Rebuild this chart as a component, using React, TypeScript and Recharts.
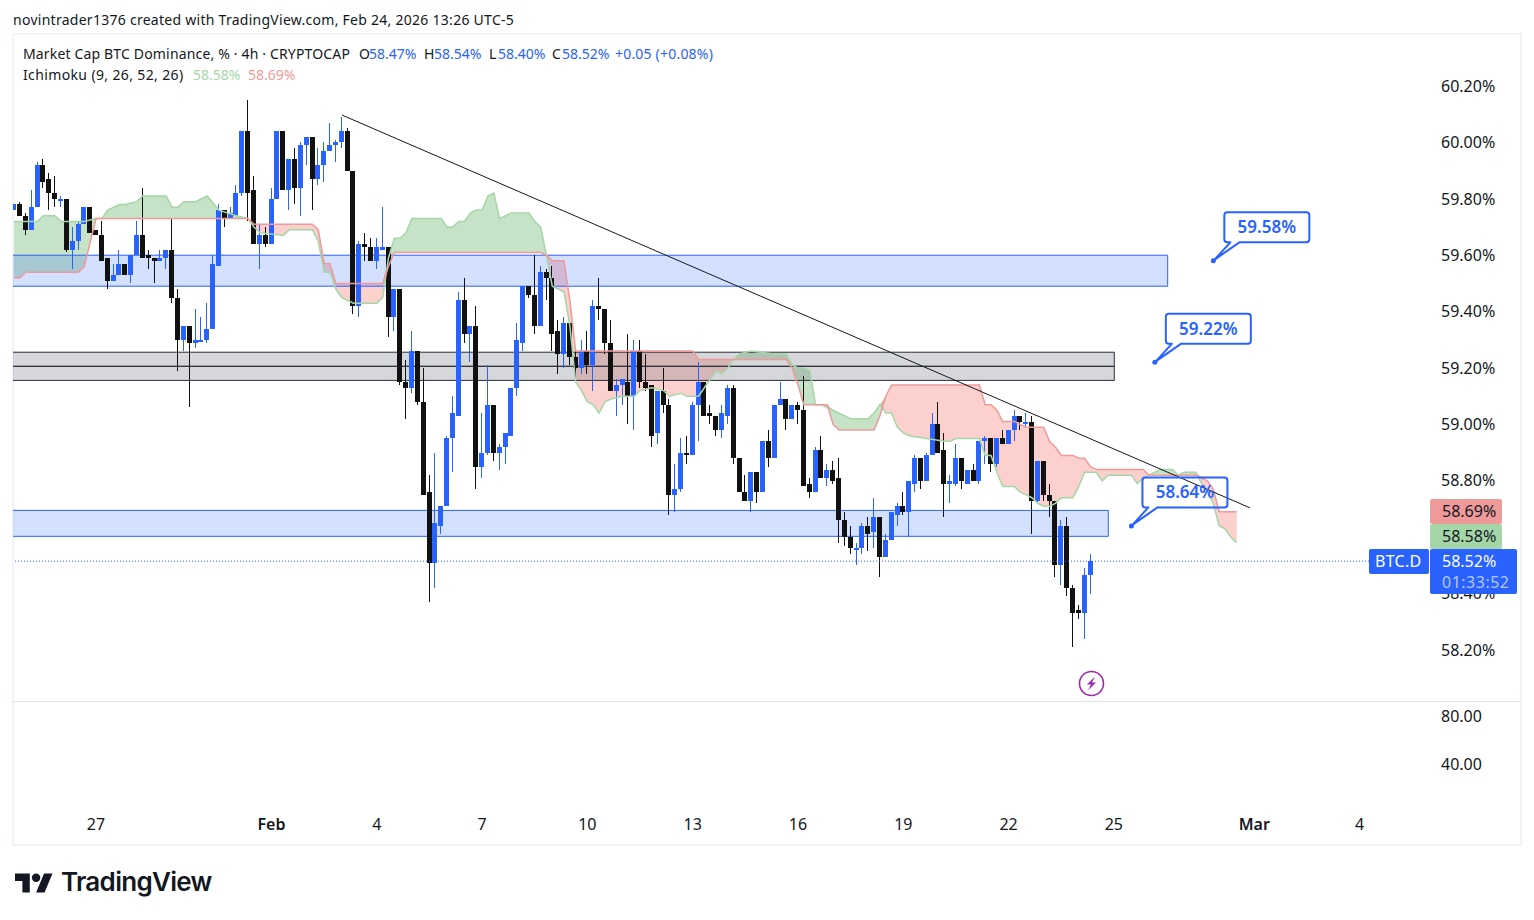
import React from 'react';
import {
  ComposedChart,
  Area,
  Bar,
  Line,
  XAxis,
  YAxis,
  ReferenceArea,
  ReferenceDot,
  ReferenceLine,
} from 'recharts';

// candles, 4h bars
const opens = [
  59.76,59.78,59.74,59.69,59.77,59.92,59.87,59.82,59.80,59.80,
  59.62,59.65,59.71,59.77,59.69,59.67,59.59,59.51,59.53,59.57,
  59.53,59.60,59.67,59.60,59.59,59.58,59.59,59.62,59.45,59.30,
  59.35,59.29,59.30,59.30,59.34,59.56,59.76,59.73,59.74,59.82,
  60.04,59.83,59.64,59.67,59.64,59.80,60.04,59.83,59.94,59.84,
  59.99,60.02,59.87,59.92,59.97,59.99,60.00,60.04,59.90,59.42,
  59.64,59.63,59.58,59.62,59.63,59.38,59.48,59.15,59.13,59.26,
  59.08,58.76,58.51,58.64,58.71,58.95,59.03,59.44,59.32,59.35,
  58.85,58.90,59.07,58.90,58.92,58.96,59.13,59.29,59.49,59.46,
  59.35,59.54,59.52,59.33,59.25,59.36,59.24,59.20,59.26,59.21,
  59.42,59.41,59.29,59.12,59.14,59.15,59.10,59.26,59.15,59.14,
  58.97,59.12,59.07,58.75,58.77,58.90,58.89,59.07,59.15,59.04,
  59.03,58.98,59.03,59.13,58.88,58.76,58.73,58.83,58.76,58.94,
  58.88,59.07,59.09,59.02,59.07,59.05,58.79,58.76,58.91,58.81,
  58.84,58.81,58.66,58.60,58.56,58.56,58.64,58.62,58.67,58.53,
  58.59,58.68,58.71,58.69,58.79,58.88,58.80,58.89,59.00,58.91,
  58.79,58.79,58.88,58.79,58.84,58.80,58.94,58.95,58.86,58.95,
  58.93,58.98,59.03,59.01,59.01,58.73,58.87,58.75,58.73,58.50,
  58.64,58.42,58.34,58.33,58.465,
];
const highs = [
  59.78,59.79,59.75,59.83,59.93,59.94,59.89,59.88,59.81,59.80,
  59.70,59.72,59.77,59.77,59.69,59.72,59.59,59.57,59.62,59.57,
  59.60,59.72,59.84,59.62,59.59,59.62,59.62,59.73,59.48,59.35,
  59.35,59.41,59.38,59.43,59.60,59.78,59.76,59.77,59.85,60.04,
  60.15,59.88,59.71,59.70,59.84,60.04,60.04,59.94,59.98,60.00,
  60.02,60.02,59.98,60.00,60.07,60.01,60.09,60.05,59.90,59.65,
  59.68,59.66,59.66,59.77,59.63,59.48,59.48,59.23,59.33,59.26,
  59.20,58.82,58.90,58.71,58.96,59.10,59.47,59.52,59.35,59.42,
  59.04,59.21,59.07,58.93,58.97,59.13,59.36,59.49,59.49,59.60,
  59.56,59.55,59.56,59.37,59.38,59.36,59.26,59.30,59.33,59.44,
  59.52,59.41,59.37,59.16,59.16,59.32,59.30,59.30,59.25,59.14,
  59.12,59.20,59.09,58.86,58.95,58.96,59.08,59.22,59.15,59.07,
  59.03,59.07,59.14,59.14,58.88,58.82,58.83,58.83,58.94,58.98,
  59.07,59.15,59.09,59.07,59.08,59.17,58.81,58.92,58.96,58.86,
  58.87,58.88,58.69,58.64,58.58,58.65,58.67,58.74,58.67,58.61,
  58.69,58.72,58.76,58.80,58.89,58.88,58.90,59.04,59.08,58.97,
  58.82,58.93,58.88,58.84,58.86,58.94,58.96,58.95,58.95,58.98,
  58.98,59.05,59.03,59.04,59.03,58.87,58.87,58.79,58.73,58.66,
  58.67,58.43,58.36,58.49,58.54,
];
const lows = [
  59.76,59.74,59.67,59.69,59.77,59.84,59.76,59.77,59.77,59.61,
  59.55,59.62,59.71,59.68,59.67,59.58,59.48,59.51,59.53,59.53,
  59.50,59.60,59.59,59.55,59.50,59.58,59.55,59.43,59.19,59.26,
  59.06,59.27,59.30,59.29,59.34,59.56,59.70,59.73,59.74,59.81,
  59.72,59.64,59.55,59.63,59.64,59.80,59.83,59.76,59.78,59.74,
  59.92,59.76,59.85,59.86,59.97,59.93,59.98,59.90,59.39,59.38,
  59.58,59.58,59.55,59.62,59.31,59.33,59.14,59.02,59.11,59.07,
  58.75,58.37,58.42,58.61,58.71,58.83,59.03,59.29,59.22,58.77,
  58.81,58.89,58.87,58.84,58.86,58.96,59.10,59.26,59.45,59.32,
  59.35,59.44,59.26,59.18,59.20,59.21,59.16,59.18,59.18,59.12,
  59.37,59.25,59.12,59.03,59.07,59.00,58.98,59.13,59.12,58.92,
  58.93,59.04,58.68,58.69,58.76,58.86,58.89,58.94,59.03,59.00,
  58.96,58.95,59.00,58.86,58.76,58.73,58.69,58.72,58.76,58.85,
  58.88,59.07,58.98,59.02,59.00,58.78,58.74,58.76,58.81,58.78,
  58.79,58.58,58.57,58.54,58.50,58.54,58.55,58.56,58.46,58.53,
  58.59,58.64,58.68,58.60,58.76,58.77,58.80,58.89,58.90,58.67,
  58.72,58.78,58.77,58.79,58.80,58.79,58.86,58.83,58.85,58.93,
  58.93,58.94,58.98,58.99,58.61,58.72,58.73,58.67,58.46,58.43,
  58.39,58.21,58.31,58.24,58.40,
];
const closes = [
  59.78,59.74,59.69,59.77,59.92,59.86,59.82,59.80,59.80,59.62,
  59.65,59.71,59.77,59.68,59.67,59.58,59.51,59.53,59.57,59.53,
  59.60,59.67,59.59,59.59,59.58,59.59,59.62,59.45,59.30,59.35,
  59.29,59.30,59.30,59.34,59.57,59.76,59.73,59.75,59.82,60.04,
  59.82,59.64,59.67,59.64,59.80,60.04,59.83,59.94,59.84,59.99,
  60.02,59.87,59.92,59.97,59.99,60.00,60.04,59.90,59.42,59.64,
  59.63,59.58,59.63,59.63,59.38,59.48,59.15,59.13,59.26,59.08,
  58.75,58.51,58.65,58.71,58.95,59.04,59.44,59.32,59.35,58.85,
  58.90,59.07,58.90,58.92,58.97,59.13,59.30,59.49,59.46,59.35,
  59.54,59.52,59.32,59.25,59.36,59.24,59.20,59.26,59.21,59.42,
  59.41,59.29,59.12,59.14,59.16,59.10,59.26,59.15,59.13,58.96,
  59.12,59.07,58.75,58.77,58.90,58.89,59.07,59.15,59.03,59.03,
  58.98,59.04,59.13,58.88,58.76,58.73,58.83,58.76,58.94,58.88,
  59.07,59.09,59.02,59.07,59.05,58.78,58.76,58.91,58.81,58.84,
  58.80,58.66,58.60,58.56,58.56,58.64,58.61,58.67,58.53,58.59,
  58.69,58.71,58.69,58.80,58.88,58.80,58.89,59.00,58.90,58.79,
  58.80,58.88,58.80,58.84,58.80,58.94,58.95,58.86,58.95,58.93,
  58.98,59.03,59.01,59.01,58.73,58.87,58.75,58.73,58.50,58.64,
  58.42,58.33,58.33,58.465,58.515,
];

// ichimoku cloud, only the bars where a span changes direction
const cloudBars = [
  0,1,2,4,5,7,8,11,12,14,15,16,18,19,21,22,26,27,28,29,31,33,35,38,40,41,42,46,47,49,51,52,53,54,55,56,58,62,63,64,
  65,66,67,68,73,74,75,76,77,78,79,80,81,82,83,84,85,88,89,90,91,92,94,95,96,97,98,99,100,101,102,104,106,107,109,111,112,114,115,116,
  117,118,119,120,121,122,123,124,126,130,132,133,134,135,136,137,138,139,140,141,142,143,146,147,148,149,150,151,152,153,156,159,160,161,165,166,167,168,169,171,
  172,173,174,175,176,177,178,179,181,182,183,184,185,186,187,191,192,193,194,196,198,199,200,202,203,204,205,206,207,208,209,
];
const spanA = [
  59.72,59.72,59.72,59.72,59.74,59.74,59.72,59.72,59.72,59.73,59.73,59.76,59.78,59.78,59.79,59.81,59.81,59.77,59.77,59.79,59.79,59.81,59.76,59.74,59.73,59.70,59.68,59.67,59.69,59.69,59.69,59.65,59.54,59.54,59.48,59.45,59.43,59.43,59.45,59.59,
  59.66,59.66,59.68,59.73,59.73,59.70,59.70,59.72,59.72,59.75,59.76,59.76,59.81,59.82,59.73,59.74,59.75,59.75,59.72,59.70,59.60,59.49,59.47,59.35,59.15,59.12,59.08,59.07,59.04,59.08,59.09,59.10,59.10,59.12,59.13,59.12,59.10,59.11,59.10,59.10,
  59.10,59.13,59.16,59.19,59.18,59.20,59.23,59.25,59.26,59.25,59.25,59.21,59.20,59.20,59.19,59.07,59.07,59.06,59.05,59.04,59.03,59.02,59.02,59.04,59.07,59.04,59.04,58.99,58.97,58.96,58.95,58.94,58.94,58.95,58.95,58.89,58.89,58.83,58.78,58.78,
  58.76,58.75,58.74,58.72,58.71,58.71,58.72,58.74,58.74,58.78,58.83,58.83,58.83,58.80,58.82,58.82,58.79,58.81,58.82,58.84,58.84,58.82,58.83,58.83,58.79,58.76,58.72,58.64,58.63,58.60,58.58,
];
const spanB = [
  59.52,59.52,59.54,59.54,59.54,59.54,59.54,59.54,59.56,59.73,59.73,59.73,59.73,59.73,59.73,59.73,59.73,59.73,59.73,59.73,59.73,59.73,59.73,59.73,59.73,59.71,59.71,59.71,59.71,59.71,59.71,59.69,59.57,59.57,59.50,59.50,59.50,59.50,59.50,59.56,
  59.61,59.61,59.61,59.61,59.61,59.61,59.61,59.61,59.61,59.61,59.61,59.61,59.61,59.61,59.61,59.61,59.61,59.61,59.61,59.61,59.60,59.58,59.58,59.44,59.26,59.26,59.26,59.26,59.26,59.26,59.26,59.26,59.26,59.26,59.26,59.26,59.26,59.26,59.26,59.26,
  59.23,59.23,59.23,59.23,59.23,59.23,59.23,59.23,59.23,59.23,59.23,59.20,59.14,59.07,59.07,59.07,59.07,59.07,59.00,58.98,58.98,58.98,58.98,58.98,59.03,59.10,59.14,59.14,59.14,59.14,59.14,59.14,59.14,59.14,59.14,59.07,59.07,59.05,59.01,59.01,
  59.00,58.99,58.99,58.99,58.99,58.94,58.92,58.89,58.89,58.88,58.88,58.85,58.84,58.84,58.84,58.84,58.84,58.84,58.82,58.82,58.82,58.82,58.82,58.82,58.81,58.80,58.77,58.69,58.69,58.69,58.69,
];

// drawn zones: top price, bottom price, last bar they reach
const blueZoneTops = [59.60, 58.695];
const blueZoneBottoms = [59.49, 58.603];
const blueZoneEnds = [197.2, 187.05];
const grayZoneEdges = [59.256, 59.206, 59.156];
const grayZoneEnd = 188.07;

const trendBars = [56.05, 211.27];
const trendPrices = [60.097, 58.704];

const calloutBars = [191, 195, 205];
const calloutPrices = [58.64, 59.22, 59.58];

const priceTicks = [58.2, 58.4, 58.6, 58.8, 59.0, 59.2, 59.4, 59.6, 59.8, 60.0, 60.2];
const lowerPaneTicks = [40, 80];
const timeTicks = [14, 44, 62, 80, 98, 116, 134, 152, 170, 188, 212, 230];
const timeLabels = ['27', 'Feb', '4', '7', '10', '13', '16', '19', '22', '25', 'Mar', '4'];

const lastClose = closes[closes.length - 1];
const lightningBar = 184;
const lightningPrice = 58.081;

const rows = Array.from({ length: 240 }, (_, i) => {
  const row: any = { i };
  if (i < opens.length) {
    row.open = opens[i];
    row.high = highs[i];
    row.low = lows[i];
    row.close = closes[i];
  }
  const c = cloudBars.indexOf(i);
  if (c >= 0) {
    row.a = spanA[c];
    row.b = spanB[c];
  }
  return row;
});

const FONT = '"Noto Sans", sans-serif';
const BLUE = '#2962FF';
const INK = '#131722';
const X_DOMAIN: [number, number] = [-0.188, 242.38];
// zones run on past the left edge of the pane and get clipped there
const ZONE_START = -3;

const Candle = (props: any) => {
  const { x, y, width, height, payload } = props;
  if (payload.open === undefined) return null;
  const yOf = (v: number) =>
    payload.high === payload.low ? y : y + ((payload.high - v) / (payload.high - payload.low)) * height;
  const color = payload.close >= payload.open ? BLUE : '#111111';
  const center = x + width / 2;
  const top = Math.round(yOf(Math.max(payload.open, payload.close)));
  const bottom = Math.round(yOf(Math.min(payload.open, payload.close)));
  return (
    <g shapeRendering="crispEdges">
      <rect x={Math.floor(center)} y={y} width={1} height={Math.max(height, 1)} fill={color} />
      <rect x={Math.round(center - 2.5)} y={top} width={5} height={Math.max(bottom - top, 2)} fill={color} />
    </g>
  );
};

const Callout = (props: any) => {
  const { cx, cy, text } = props;
  const left = cx + 11;
  const top = cy - 48.5;
  const bottom = top + 30;
  return (
    <g>
      <circle cx={cx} cy={cy} r={2.5} fill={BLUE} />
      <path
        d={`M${cx + 1} ${cy - 1} L${left + 6} ${bottom} H${left + 3} a3 3 0 0 1 -3 -3 V${top + 3} a3 3 0 0 1 3 -3 H${left + 82} a3 3 0 0 1 3 3 V${bottom - 3} a3 3 0 0 1 -3 3 H${left + 15} Z`}
        fill="none"
        stroke={BLUE}
        strokeWidth={2}
        strokeLinejoin="round"
      />
      <text x={left + 42.5} y={top + 21} textAnchor="middle" fill={BLUE} fontSize={17} fontWeight={600} fontFamily={FONT}>
        {text}
      </text>
    </g>
  );
};

const Lightning = (props: any) => {
  const { cx, cy } = props;
  return (
    <g>
      <circle cx={cx + 1} cy={cy} r={12} fill="#fff" stroke="#9C27B0" strokeWidth={1.6} />
      <path
        d={`M${cx + 4.5} ${cy - 7} L${cx - 3.5} ${cy + 1} H${cx + 0.5} L${cx - 2.5} ${cy + 7} L${cx + 5.5} ${cy - 1} H${cx + 1.5} Z`}
        fill="#9C27B0"
      />
    </g>
  );
};

const TimeTick = (props: any) => {
  const { x, y, payload } = props;
  const label = timeLabels[timeTicks.indexOf(payload.value)];
  return (
    <text x={x} y={y + 1} textAnchor="middle" fill={INK} fontSize={16} fontFamily={FONT} fontWeight={label === 'Feb' || label === 'Mar' ? 600 : 400}>
      {label}
    </text>
  );
};

const abs = (left: number, top: number, extra: React.CSSProperties = {}): React.CSSProperties => ({
  position: 'absolute',
  left,
  top,
  whiteSpace: 'nowrap',
  fontFamily: FONT,
  ...extra,
});

const legendText = (left: number, top: number, text: string, color = INK, spacing = 0) => (
  <div style={abs(left, top, { color, fontSize: 14, lineHeight: '20px', letterSpacing: spacing })}>{text}</div>
);

const axisBox = (left: number, top: number, width: number, height: number, bg: string) => (
  <div style={abs(left, top, { width, height, background: bg, borderRadius: 2 })} />
);

const axisText = (left: number, top: number, text: string, color: string, spacing = 0) => (
  <div style={abs(left, top, { color, fontSize: 16, lineHeight: '20px', letterSpacing: spacing })}>{text}</div>
);

export default function App() {
  return (
    <div style={{ position: 'absolute', left: 0, top: 0, width: 1534, height: 920, background: '#fff', overflow: 'hidden' }}>
      <div style={abs(12, 33, { width: 1506, height: 809, border: '2px solid #F0F3FA' })} />

      <div style={abs(0, 0)}>
        <ComposedChart width={1534} height={701} data={rows} margin={{ top: 35, right: 0, bottom: 0, left: 13 }}>
          <XAxis dataKey="i" type="number" domain={X_DOMAIN} allowDataOverflow hide />
          <YAxis
            orientation="right"
            width={102}
            type="number"
            domain={[58.019, 60.381]}
            allowDataOverflow
            ticks={priceTicks}
            interval={0}
            axisLine={false}
            tickLine={false}
            tickSize={0}
            tickMargin={9}
            tickFormatter={(v: number) => `${v.toFixed(2)}%`}
            tick={{ fill: INK, fontSize: 16, fontFamily: FONT, textAnchor: 'start' }}
          />

          <Area dataKey={(r: any) => (r.a === undefined ? null : [r.b, Math.max(r.a, r.b)])} stroke="none" fill="#43A047" fillOpacity={0.3} connectNulls dot={false} activeDot={false} isAnimationActive={false} />
          <Area dataKey={(r: any) => (r.a === undefined ? null : [r.a, Math.max(r.a, r.b)])} stroke="none" fill="#F44336" fillOpacity={0.25} connectNulls dot={false} activeDot={false} isAnimationActive={false} />
          <Line dataKey="a" stroke="#A5D6A7" strokeWidth={1.5} connectNulls dot={false} activeDot={false} isAnimationActive={false} />
          <Line dataKey="b" stroke="#EF9A9A" strokeWidth={1.5} connectNulls dot={false} activeDot={false} isAnimationActive={false} />

          {blueZoneTops.map((top, k) => (
            <ReferenceArea key={k} x1={ZONE_START} x2={blueZoneEnds[k]} y1={blueZoneBottoms[k]} y2={top} ifOverflow="hidden" fill={BLUE} fillOpacity={0.2} stroke={BLUE} strokeWidth={1} />
          ))}
          <ReferenceArea x1={ZONE_START} x2={grayZoneEnd} y1={grayZoneEdges[1]} y2={grayZoneEdges[0]} ifOverflow="hidden" fill="#787B86" fillOpacity={0.3} stroke="#2A2E39" strokeWidth={1} />
          <ReferenceArea x1={ZONE_START} x2={grayZoneEnd} y1={grayZoneEdges[2]} y2={grayZoneEdges[1]} ifOverflow="hidden" fill="#787B86" fillOpacity={0.3} stroke="#2A2E39" strokeWidth={1} />

          <ReferenceLine y={lastClose} stroke={BLUE} strokeDasharray="1 2" strokeWidth={1} />

          <Bar dataKey={(r: any) => (r.open === undefined ? null : [r.low, r.high])} barSize={5} shape={<Candle />} isAnimationActive={false} />

          {calloutBars.map((bar, k) => (
            <ReferenceDot key={k} x={bar} y={calloutPrices[k]} r={2} ifOverflow="visible" shape={(p: any) => <Callout {...p} text={`${calloutPrices[k].toFixed(2)}%`} />} />
          ))}
          <ReferenceDot x={lightningBar} y={lightningPrice} r={12} shape={(p: any) => <Lightning {...p} />} />
          <ReferenceLine
            segment={[
              { x: trendBars[0], y: trendPrices[0] },
              { x: trendBars[1], y: trendPrices[1] },
            ]}
            stroke="#131722"
            strokeWidth={1}
          />
        </ComposedChart>
      </div>

      <div style={abs(0, 701)}>
        <ComposedChart width={1534} height={144} data={rows} margin={{ top: 0, right: 0, bottom: 0, left: 13 }}>
          <XAxis
            dataKey="i"
            type="number"
            domain={X_DOMAIN}
            allowDataOverflow
            height={44}
            ticks={timeTicks}
            interval={0}
            axisLine={false}
            tickLine={false}
            tickSize={0}
            tickMargin={28}
            tick={<TimeTick />}
          />
          <YAxis
            orientation="right"
            width={102}
            type="number"
            domain={[9.17, 92.5]}
            allowDataOverflow
            ticks={lowerPaneTicks}
            interval={0}
            axisLine={false}
            tickLine={false}
            tickSize={0}
            tickMargin={9}
            tickFormatter={(v: number) => v.toFixed(2)}
            tick={{ fill: INK, fontSize: 16, fontFamily: FONT, textAnchor: 'start' }}
          />
          <Line dataKey="pane" stroke="none" dot={false} activeDot={false} isAnimationActive={false} />
        </ComposedChart>
      </div>
      <div style={abs(13, 701, { width: 1507, height: 1, background: '#E0E3EB' })} />

      {legendText(13, 10, 'novintrader1376 created with TradingView.com, Feb 24, 2026 13:26 UTC-5', INK, 0.27)}
      {legendText(23, 44, 'Market Cap BTC Dominance, % · 4h · CRYPTOCAP', INK, 0.16)}
      {legendText(359, 44, 'O')}
      {legendText(369, 44, '58.47%', BLUE)}
      {legendText(424, 44, 'H')}
      {legendText(434, 44, '58.54%', BLUE)}
      {legendText(489, 44, 'L')}
      {legendText(498, 44, '58.40%', BLUE)}
      {legendText(552, 44, 'C')}
      {legendText(562, 44, '58.52%', BLUE)}
      {legendText(615, 44, '+0.05 (+0.08%)', BLUE, 0.2)}
      {legendText(23, 65, 'Ichimoku (9, 26, 52, 26)', INK, 0.37)}
      {legendText(193, 65, '58.58%', '#A5D6A7')}
      {legendText(248, 65, '58.69%', '#EF9A9A')}

      {axisBox(1430, 499, 72, 25, '#EF9A9A')}
      {axisBox(1430, 524, 72, 25, '#A5D6A7')}
      {axisBox(1430, 549, 87, 45, BLUE)}
      {axisBox(1369, 549, 60, 25, BLUE)}
      {axisText(1442, 501, '58.69%', INK)}
      {axisText(1442, 526, '58.58%', INK)}
      {axisText(1442, 551, '58.52%', '#fff')}
      {axisText(1442, 572, '01:33:52', 'rgba(255,255,255,0.65)', 0.5)}
      {axisText(1375, 551, 'BTC.D', '#fff', 0.3)}

      <svg style={{ position: 'absolute', left: 15, top: 869 }} width={38} height={24} viewBox="0 0 36 22">
        <path d="M14 22H7V11H0V4h14v18zM28 22h-8l7.5-18h8L28 22z" fill="#131722" />
        <circle cx={20} cy={8} r={4} fill="#131722" />
      </svg>
      <div style={abs(61, 866, { color: INK, fontFamily: 'Inter, sans-serif', fontSize: 26, fontWeight: 600, lineHeight: '32px', letterSpacing: -0.7 })}>TradingView</div>
    </div>
  );
}
